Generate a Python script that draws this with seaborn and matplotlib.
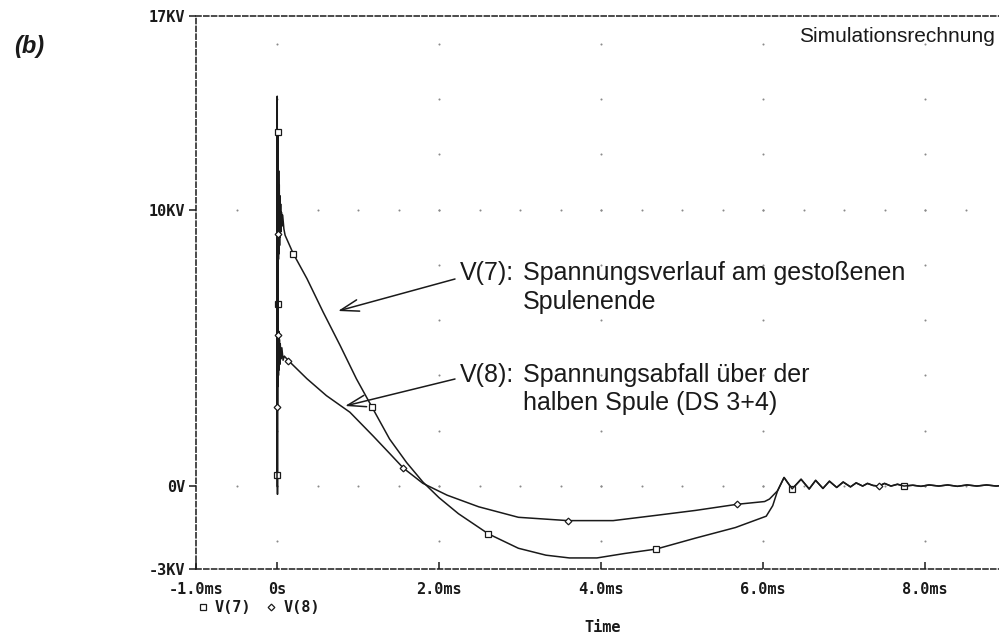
import numpy as np
import pandas as pd
import matplotlib
matplotlib.use("Agg")
import matplotlib.pyplot as plt
from matplotlib.lines import Line2D
import seaborn as sns

# ---------------- data ----------------
t7 = [0.000, 0.003, 0.006, 0.009, 0.012, 0.015, 0.018, 0.021, 0.024, 0.028,
      0.032, 0.036, 0.040, 0.045, 0.050, 0.055, 0.060, 0.070, 0.085, 0.10,
      0.20, 0.37, 0.57, 0.78, 0.98, 1.17, 1.39, 1.60, 1.80, 2.00, 2.24, 2.61,
      2.98, 3.32, 3.61, 3.95, 4.29, 4.68, 5.17, 5.66, 6.04, 6.12, 6.18, 6.26,
      6.36, 6.47, 6.57, 6.65, 6.74, 6.82, 6.91, 6.99, 7.08, 7.15, 7.23, 7.29,
      7.36, 7.43, 7.50, 7.58, 7.66, 7.74, 7.85, 7.95, 8.05, 8.17, 8.28, 8.40,
      8.52, 8.64, 8.76, 8.88, 8.98]
v7 = [0.4, 14.1, -0.3, 12.8, 6.6, 11.7, 8.2, 11.4, 8.4, 10.9,
      8.7, 10.5, 9.0, 10.2, 9.2, 9.9, 9.4, 9.8, 9.3, 9.07,
      8.41, 7.5, 6.29, 5.08, 3.88, 2.87, 1.70, 0.85, 0.15, -0.42, -1.0, -1.73,
      -2.25, -2.5, -2.6, -2.6, -2.44, -2.28, -1.88, -1.5, -1.09, -0.71, -0.17, 0.31,
      -0.11, 0.25, -0.11, 0.21, -0.09, 0.18, -0.05, 0.15, -0.03, 0.12, 0.0, 0.10,
      0.02, 0.0, 0.10, 0.0, 0.07, 0.0, 0.03, -0.01, 0.04, 0.0, 0.04, -0.01,
      0.04, 0.0, 0.04, 0.0, 0.03]

t8 = [0.000, 0.003, 0.006, 0.009, 0.012, 0.015, 0.018, 0.022, 0.026, 0.030,
      0.035, 0.040, 0.050, 0.060, 0.075, 0.090, 0.14, 0.37, 0.61, 0.90,
      1.19, 1.40, 1.56, 1.80, 2.10, 2.49, 2.98, 3.59, 4.15, 4.68, 5.17, 5.68,
      6.02, 6.08, 6.18, 6.26,
      6.36, 6.47, 6.57, 6.65, 6.74, 6.82, 6.91, 6.99, 7.08, 7.15, 7.23, 7.29,
      7.36, 7.43, 7.50, 7.58, 7.66, 7.74, 7.85, 7.95, 8.05, 8.17, 8.28, 8.40,
      8.52, 8.64, 8.76, 8.88, 8.98]
v8 = [0.0, 9.6, 2.85, 9.1, 3.6, 5.45, 4.0, 5.6, 4.2, 5.3,
      4.4, 5.15, 4.6, 5.0, 4.55, 4.7, 4.54, 3.88, 3.27, 2.67,
      1.80, 1.15, 0.65, 0.10, -0.33, -0.75, -1.13, -1.25, -1.25, -1.06, -0.88, -0.66,
      -0.56, -0.47, -0.17, 0.31,
      -0.10, 0.24, -0.10, 0.20, -0.08, 0.17, -0.05, 0.14, -0.03, 0.11, 0.0, 0.09,
      0.02, 0.0, 0.09, 0.0, 0.06, 0.0, 0.03, -0.01, 0.04, 0.0, 0.04, -0.01,
      0.04, 0.0, 0.04, 0.0, 0.03]

# time stamps of the plotted marker symbols
mark7_t = [0.000, 0.009, 0.012, 0.20, 1.17, 2.61, 4.68, 6.36, 7.74]
mark8_t = [0.006, 0.009, 0.015, 0.14, 1.56, 3.59, 5.68, 7.43]

series_names = ["V(7)", "V(8)"]
xtick_vals = [-1, 0, 2, 4, 6, 8]
xtick_labels = ["-1.0ms", "0s", "2.0ms", "4.0ms", "6.0ms", "8.0ms"]
ytick_vals = [-3, 0, 10, 17]
ytick_labels = ["-3KV", "0V", "10KV", "17KV"]

# ---------------- figure ----------------
sns.set_theme(style="white")
plt.rcParams["font.family"] = ["DejaVu Sans"]

W, H = 999, 635
fig = plt.figure(figsize=(W / 100, H / 100), dpi=100)
fig.patch.set_facecolor("white")

L, B, T = 196, 569, 16
ax = fig.add_axes([L / W, 1 - B / H, (W - L) / W, (B - T) / H])
px_per_ms = 81.0
ax.set_xlim(-1, -1 + (W - L) / px_per_ms)
ax.set_ylim(-3, 17)
ax.set_facecolor("white")

# dotted grid (PSpice style)
gx, gy = [], []
for xv in [0, 2, 4, 6, 8]:
    for yv in np.arange(-2, 17, 2):
        gx.append(xv); gy.append(yv)
for yv in [0, 10]:
    for xv in np.arange(-0.5, 8.9, 0.5):
        gx.append(xv); gy.append(yv)
ax.scatter(gx, gy, s=2.2, color="#8a8a8a", linewidths=0, zorder=1)

ink = "#1a1a1a"
df7 = pd.DataFrame({"t": t7, "v": v7})
df8 = pd.DataFrame({"t": t8, "v": v8})
idx7 = [t7.index(t) for t in mark7_t]
idx8 = [t8.index(t) for t in mark8_t]

sns.lineplot(data=df7, x="t", y="v", ax=ax, sort=False, estimator=None,
             color=ink, linewidth=1.1, marker="s", markersize=4.6,
             mfc="white", mec=ink, mew=0.9, markevery=idx7, zorder=3)
sns.lineplot(data=df8, x="t", y="v", ax=ax, sort=False, estimator=None,
             color=ink, linewidth=1.1, marker="D", markersize=3.4,
             mfc="white", mec=ink, mew=0.9, markevery=idx8, zorder=3)

# axes frame: dashed
for side in ["left", "bottom", "top"]:
    sp = ax.spines[side]
    sp.set_visible(True)
    sp.set_color(ink)
    sp.set_linewidth(1.1)
    sp.set_linestyle((0, (3.3, 1.8)))
ax.spines["right"].set_visible(False)

mono = dict(family="DejaVu Sans Mono", weight="bold", size=11)
ax.set_xticks(xtick_vals)
ax.set_xticklabels(xtick_labels, fontdict=mono)
ax.set_yticks(ytick_vals)
ax.set_yticklabels(ytick_labels, fontdict=mono)
ax.tick_params(axis="x", direction="in", length=5, width=1.1, color=ink,
               pad=9, labelcolor=ink, bottom=True)
ax.tick_params(axis="y", direction="out", length=5, width=1.1, color=ink,
               pad=3, labelcolor=ink, left=True)
ax.set_xlabel("")
ax.set_ylabel("")
ax.grid(False)

fig.text(603 / W, 1 - 627 / H, "Time", ha="center", va="center",
         color=ink, **{k: v for k, v in mono.items()})

# legend below the axis
handles = [Line2D([], [], marker="s", ls="none", ms=4.6, mfc="white", mec=ink, mew=0.9),
           Line2D([], [], marker="D", ls="none", ms=3.4, mfc="white", mec=ink, mew=0.9)]
leg = fig.legend(handles, series_names, loc="center left",
                 bbox_to_anchor=(198 / W, 1 - 608 / H), ncol=2, frameon=False,
                 prop=dict(family="DejaVu Sans Mono", weight="bold", size=11),
                 handlelength=0.6, handletextpad=0.5, columnspacing=1.0,
                 borderpad=0, borderaxespad=0)
for txt in leg.get_texts():
    txt.set_color(ink)

# panel label and title text
sans = ["Liberation Sans", "DejaVu Sans"]
fig.text(29 / W, 1 - 46 / H, "(b)", ha="center", va="center", family=sans,
         weight="bold", style="italic", size=17, color=ink)
fig.text(995 / W, 1 - 36 / H, "Simulationsrechnung", ha="right", va="center",
         family=sans, size=15, color=ink)

# annotations
ann_size = 18
fig.text(460 / W, 1 - 273 / H, "V(7):", ha="left", va="center", family=sans, size=ann_size, color=ink)
fig.text(523 / W, 1 - 273 / H, "Spannungsverlauf am gestoßenen", ha="left", va="center",
         family=sans, size=ann_size, color=ink)
fig.text(523 / W, 1 - 302 / H, "Spulenende", ha="left", va="center", family=sans, size=ann_size, color=ink)
fig.text(460 / W, 1 - 375 / H, "V(8):", ha="left", va="center", family=sans, size=ann_size, color=ink)
fig.text(523 / W, 1 - 375 / H, "Spannungsabfall über der", ha="left", va="center",
         family=sans, size=ann_size, color=ink)
fig.text(523 / W, 1 - 403 / H, "halben Spule (DS 3+4)", ha="left", va="center",
         family=sans, size=ann_size, color=ink)

arrow = dict(arrowstyle="->,head_length=1.1,head_width=0.35", color=ink, lw=1.1,
             shrinkA=0, shrinkB=0)
ax.annotate("", xy=(338, H - 311), xycoords="figure pixels",
            xytext=(455, H - 279), textcoords="figure pixels", arrowprops=arrow)
ax.annotate("", xy=(345, H - 406), xycoords="figure pixels",
            xytext=(455, H - 379), textcoords="figure pixels", arrowprops=arrow)

fig.savefig("out.png", dpi=100, facecolor="white")
